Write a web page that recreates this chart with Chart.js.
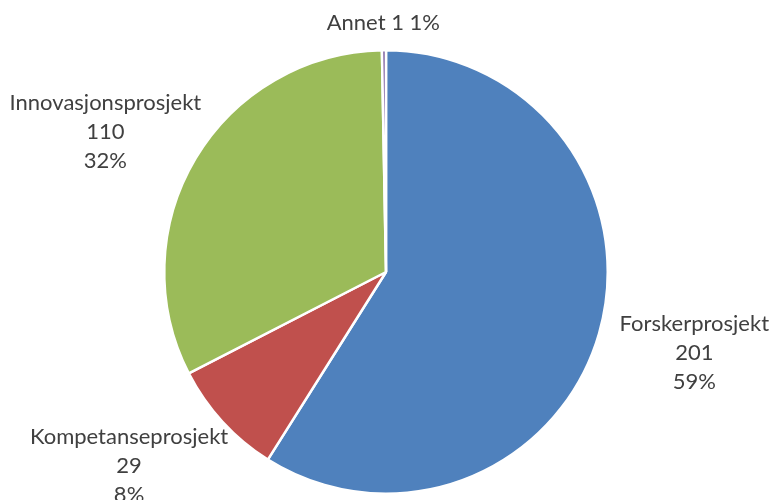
<!DOCTYPE html>
<html>
<head>
<meta charset="utf-8">
<script src="https://cdn.jsdelivr.net/npm/chart.js@4"></script>
<style>
  html, body { margin: 0; padding: 0; background: #fff; }
  #wrap { width: 776px; height: 500px; }
</style>
</head>
<body>
<div id="wrap"><canvas id="pie"></canvas></div>
<script>
// Prosjekttyper
const categories = ['Forskerprosjekt', 'Kompetanseprosjekt', 'Innovasjonsprosjekt', 'Annet'];
const counts = [201, 29, 110, 1];
const percents = ['59%', '8%', '32%', '1%'];
const colors = ['#4F81BD', '#C0504D', '#9BBB59', '#8064A2'];

// Data labels drawn outside each slice, anchored on the arc's mid angle
const outsideLabels = {
    id: 'outsideLabels',
    afterDatasetsDraw(chart, args, opts) {
        const ctx = chart.ctx;
        const meta = chart.getDatasetMeta(0);
        ctx.save();
        ctx.font = opts.font;
        ctx.fillStyle = opts.color;
        ctx.textAlign = 'center';
        ctx.textBaseline = 'middle';
        meta.data.forEach((arc, i) => {
            const lines = i === 3
                ? [categories[i] + ' ' + counts[i] + ' ' + percents[i]]
                : [categories[i], String(counts[i]), percents[i]];
            const w = Math.max(...lines.map(l => ctx.measureText(l).width));
            const h = lines.length * opts.lineHeight;
            const mid = (arc.startAngle + arc.endAngle) / 2;
            const r = arc.outerRadius + opts.gap;
            const ax = arc.x + Math.cos(mid) * r;
            const ay = arc.y + Math.sin(mid) * r;
            const nudge = opts.nudge[i] || [0, 0];
            const cx = ax + Math.cos(mid) * w / 2 + nudge[0];
            const cy = ay + Math.sin(mid) * h / 2 + nudge[1];
            lines.forEach((l, k) => {
                ctx.fillText(l, cx, cy - h / 2 + opts.lineHeight * (k + 0.5));
            });
        });
        ctx.restore();
    }
};

new Chart(document.getElementById('pie'), {
    type: 'pie',
    data: {
        labels: categories,
        datasets: [{
            data: counts,
            backgroundColor: colors,
            borderColor: '#ffffff',
            borderWidth: 2.5
        }]
    },
    options: {
        responsive: true,
        maintainAspectRatio: false,
        animation: false,
        layout: { padding: { left: 162, right: 166, top: 49, bottom: 5 } },
        plugins: {
            legend: { display: false },
            tooltip: { enabled: false },
            outsideLabels: {
                font: '22px Lato',
                color: '#404040',
                lineHeight: 29,
                gap: 14,
                nudge: [[10, 3], [-10, 5], [4, 3], [0, 1]]
            }
        }
    },
    plugins: [outsideLabels]
});
</script>
</body>
</html>
